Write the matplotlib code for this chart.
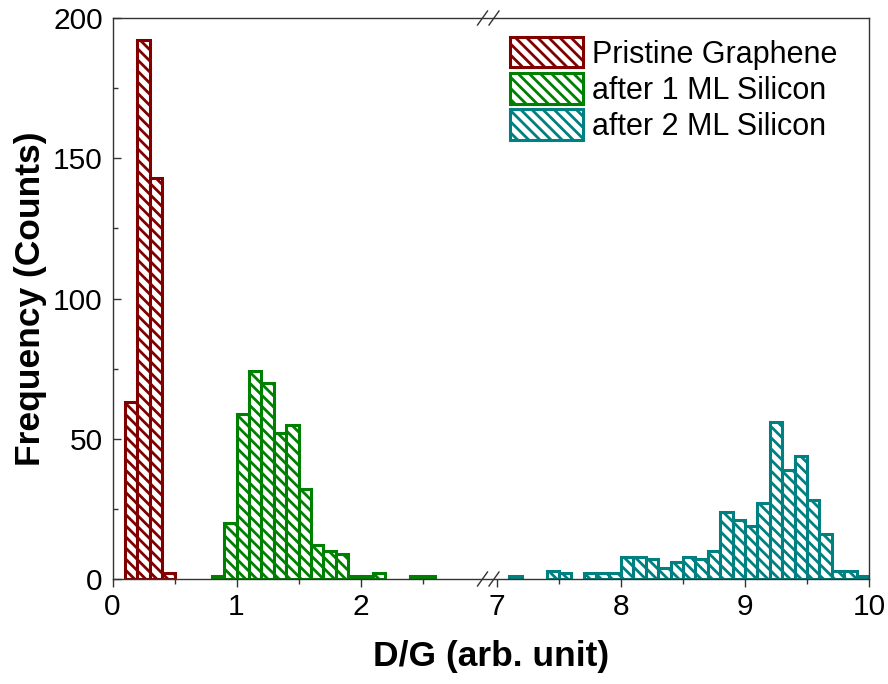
import numpy as np
import matplotlib
matplotlib.use("Agg")
import matplotlib.pyplot as plt
from matplotlib.patches import Patch
from matplotlib.ticker import FixedLocator, MultipleLocator

RED = "#800000"
GREEN = "#008000"
TEAL = "#008080"
SPINE = "#333333"

plt.rcParams.update({
    "font.family": ["Liberation Sans", "DejaVu Sans"],
    "hatch.linewidth": 2.0,
})

# histogram data: left bin edges (bin width 0.1) and counts
BIN_W = 0.1
pristine_bins = [0.1, 0.2, 0.3, 0.4]
pristine_counts = [63, 192, 143, 2]

ml1_bins = [0.8, 0.9, 1.0, 1.1, 1.2, 1.3, 1.4, 1.5, 1.6, 1.7, 1.8, 1.9, 2.0, 2.1, 2.4, 2.5]
ml1_counts = [1, 20, 59, 74, 70, 52, 55, 32, 12, 10, 9, 1, 1, 2, 1, 1]

ml2_bins = [7.1, 7.4, 7.5, 7.7, 7.8, 7.9, 8.0, 8.1, 8.2, 8.3, 8.4, 8.5, 8.6,
            8.7, 8.8, 8.9, 9.0, 9.1, 9.2, 9.3, 9.4, 9.5, 9.6, 9.7, 9.8, 9.9]
ml2_counts = [1, 3, 2, 2, 2, 2, 8, 8, 7, 4, 6, 8, 7,
              10, 24, 21, 19, 27, 56, 39, 44, 28, 16, 3, 3, 1]

labels = ["Pristine Graphene", "after 1 ML Silicon", "after 2 ML Silicon"]
colors = [RED, GREEN, TEAL]

x_major = [0, 1, 2, 7, 8, 9, 10]
x_minor = [0.5, 1.5, 2.5, 7.5, 8.5, 9.5]

# broken x axis: 0-3 and 7-10, with a small gap in between
GAP = 0.1


def fwd(x):
    x = np.asarray(x, dtype=float)
    return np.where(x <= 3, x, np.where(x >= 7, x - 4 + GAP, 3 + (x - 3) * GAP / 4))


def inv(y):
    y = np.asarray(y, dtype=float)
    return np.where(y <= 3, y, np.where(y >= 3 + GAP, y + 4 - GAP, 3 + (y - 3) * 4 / GAP))


fig = plt.figure(figsize=(8.88, 6.84), dpi=100)
ax = fig.add_axes([112.5 / 888, 1 - 579 / 684, (869 - 112.5) / 888, (579 - 18) / 684])
ax.set_xscale("function", functions=(fwd, inv))

hatch = "\\\\\\"
for bins, counts, col in [(pristine_bins, pristine_counts, RED),
                          (ml1_bins, ml1_counts, GREEN),
                          (ml2_bins, ml2_counts, TEAL)]:
    ax.bar(bins, counts, width=BIN_W, align="edge", color="white",
           edgecolor=col, hatch=hatch, linewidth=2.2, zorder=2)

ax.set_xlim(0, 10)
ax.set_ylim(0, 200)

ax.xaxis.set_major_locator(FixedLocator(x_major))
ax.xaxis.set_minor_locator(FixedLocator(x_minor))
ax.set_xticklabels([str(v) for v in x_major])
ax.yaxis.set_major_locator(MultipleLocator(50))
ax.yaxis.set_minor_locator(MultipleLocator(25))

ax.tick_params(axis="x", which="both", direction="out", top=False,
               labelsize=21.5, color=SPINE, width=1.0, pad=4)
ax.tick_params(axis="x", which="major", length=6)
ax.tick_params(axis="x", which="minor", length=3.5)
ax.tick_params(axis="y", which="both", direction="in", right=False,
               labelsize=21.5, color=SPINE, width=1.0, pad=7)
ax.tick_params(axis="y", which="major", length=6)
ax.tick_params(axis="y", which="minor", length=3.5)

for s in ax.spines.values():
    s.set_linewidth(1.0)
    s.set_color(SPINE)

ax.set_xlabel("D/G (arb. unit)", fontsize=25.5, fontweight="bold", labelpad=14)
ax.set_ylabel("Frequency (Counts)", fontsize=25.5, fontweight="bold", labelpad=4)

# break marks on the bottom and top spines
dx = 5 / 756.5
dy = 7 / 561
for xc in [(482.5 - 112.5) / 756.5, (494 - 112.5) / 756.5]:
    for yc in [0, 1]:
        ax.plot([xc - dx, xc + dx], [yc - dy, yc + dy], color=SPINE, lw=1.0,
                transform=ax.transAxes, clip_on=False, zorder=5)

handles = [Patch(facecolor="white", edgecolor=c, hatch=hatch, linewidth=2.2) for c in colors]
fig.legend(handles, labels, loc="upper left", bbox_to_anchor=(510 / 888, 1 - 37 / 684),
           frameon=False, borderpad=0, borderaxespad=0, fontsize=22,
           handlelength=2.4, handleheight=1.15, handletextpad=0.3, labelspacing=0.12)

fig.savefig("out.png", dpi=100)
